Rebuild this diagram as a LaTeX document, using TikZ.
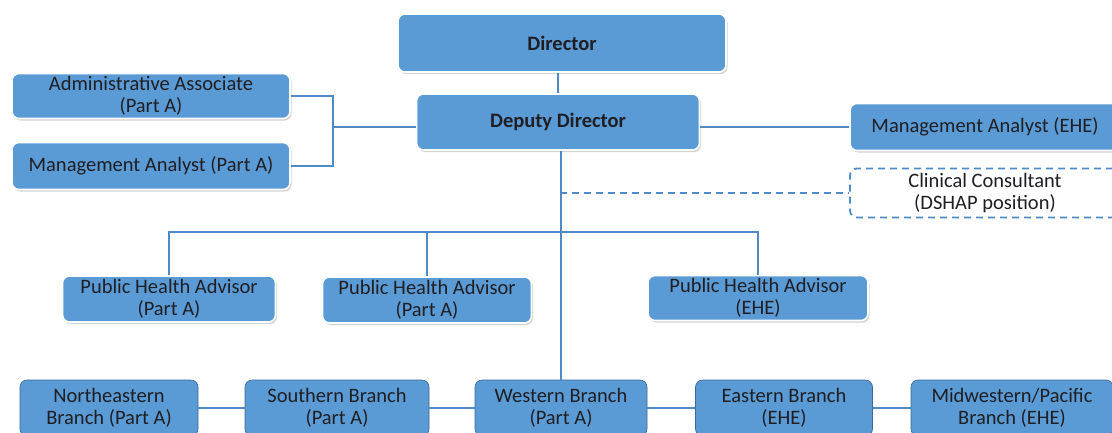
\documentclass[tikz,border=0pt]{standalone}
\usepackage{fontspec}
\setmainfont{Carlito}
\usepackage{xcolor}
\usepackage{tikz}
\usetikzlibrary{shadows, calc}
\definecolor{boxblue}{RGB}{91,155,213}
\definecolor{linkblue}{RGB}{79,138,198}
\definecolor{ink}{RGB}{30,30,35}
\tikzstyle{link} = [draw=linkblue, line width=2.6pt]

\begin{document}
\begin{tikzpicture}[
    x=1pt, y=-1pt,
    box/.style={rectangle, rounded corners=7pt, fill=boxblue, text=ink, align=center,
        font=\fontsize{20.5}{22}\selectfont, inner sep=2pt},
    glossy/.style={box, draw=white, line width=1.6pt,
        drop shadow={opacity=0.35, shadow xshift=1.5pt, shadow yshift=-2pt}},
    flat/.style={box, draw=linkblue!75!black, line width=0.6pt},
    vacant/.style={box, fill=white, draw=linkblue, dashed, line width=1.8pt,
        dash pattern=on 7pt off 5pt},
]
    \useasboundingbox (0,0) rectangle (1112,432);

    % Top
    \node[glossy, minimum width=328pt, minimum height=58pt, font=\fontsize{20.5}{22}\selectfont\bfseries] (dir) at (562,43) {Director};
    \node[glossy, minimum width=283pt, minimum height=56pt, font=\fontsize{20.5}{22}\selectfont\bfseries] (dep) at (558,122) {Deputy Director};

    % Staff
    \node[glossy, minimum width=278pt, minimum height=45pt] (adm) at (151,96) {Administrative Associate\\(Part A)};
    \node[glossy, minimum width=278pt, minimum height=47pt] (mgA) at (151,166) {Management Analyst (Part A)};
    \node[glossy, minimum width=270pt, minimum height=47pt] (mgE) at (985,127) {Management Analyst (EHE)};
    \node[vacant, minimum width=270pt, minimum height=49pt] (cli) at (985,193) {Clinical Consultant\\(DSHAP position)};

    % Advisors
    \node[glossy, minimum width=213pt, minimum height=46pt] (pha1) at (169,299) {Public Health Advisor\\(Part A)};
    \node[glossy, minimum width=209pt, minimum height=46pt] (pha2) at (427,300) {Public Health Advisor\\(Part A)};
    \node[glossy, minimum width=220pt, minimum height=45pt] (pha3) at (758,298) {Public Health Advisor\\(EHE)};

    % Branches
    \node[flat, minimum width=178pt, minimum height=56pt] (ne) at (109,408) {Northeastern\\Branch (Part A)};
    \node[flat, minimum width=184pt, minimum height=56pt] (so) at (337,408) {Southern Branch\\(Part A)};
    \node[flat, minimum width=172pt, minimum height=56pt] (we) at (561,408) {Western Branch\\(Part A)};
    \node[flat, minimum width=177pt, minimum height=56pt] (ea) at (784,408) {Eastern Branch\\(EHE)};
    \node[flat, minimum width=202pt, minimum height=56pt] (mw) at (1012,408) {Midwestern/Pacific\\Branch (EHE)};

    % Connections
    \coordinate (brk) at (333,127);
    \coordinate (bus) at (560,232);
    \coordinate (dsh) at (560,193);

    \draw[link] (dir.south -| dep.north) -- (dep.north);
    \draw[link] (adm.east) -| (brk) |- (mgA.east);
    \draw[link] (brk) -- (brk -| dep.west);
    \draw[link] (dep.east |- mgE.west) -- (mgE.west);
    \draw[link] (dep.south -| we.north) -- (we.north);
    \draw[link, dash pattern=on 7pt off 5pt] (dsh) -- (cli.west);
    \draw[link] (pha1.north) |- (bus) -| (pha3.north);
    \draw[link] (pha2.north) -- (pha2.north |- bus);

    \foreach \a/\b in {ne/so, so/we, we/ea, ea/mw}
        \draw[link] (\a) -- (\b);
\end{tikzpicture}
\end{document}
